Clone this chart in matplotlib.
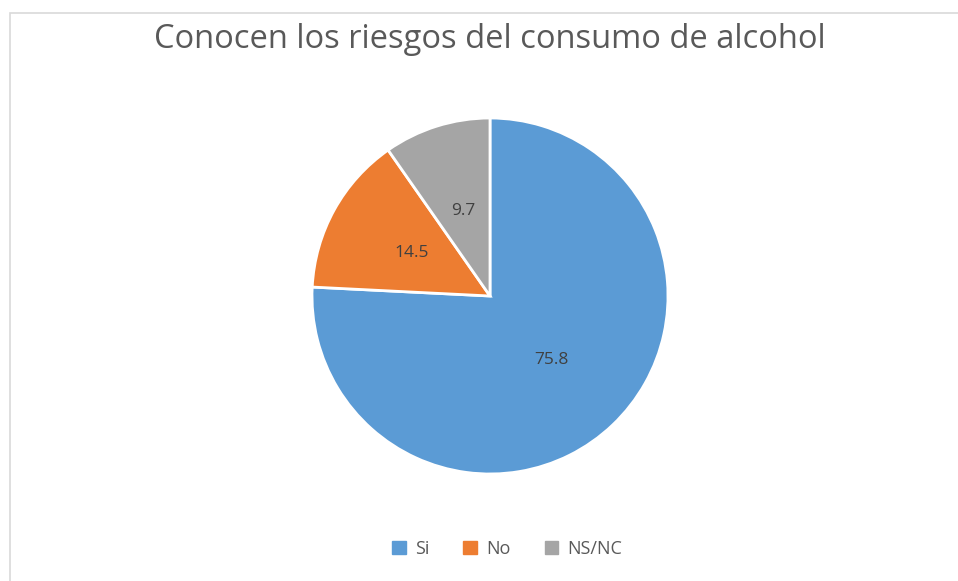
import matplotlib.pyplot as plt
from matplotlib.patches import Rectangle, Patch

# Data
categories = ["Si", "No", "NS/NC"]
values = [75.8, 14.5, 9.7]
colors = ["#5B9BD5", "#ED7D31", "#A5A5A5"]

W, H = 958, 581
fig = plt.figure(figsize=(W / 100, H / 100), dpi=100)
plt.rcParams['font.family'] = ['Open Sans', 'DejaVu Sans']

# chart border (extends past right/bottom edge)
fig.patches.append(Rectangle((10 / W, -0.05), 1.0, 1 - 13 / H + 0.05,
                             transform=fig.transFigure, fill=False,
                             edgecolor="#D9D9D9", linewidth=1.2))

# pie axes: center (490, 296), radius 178 px
cx, cy, r = 490, 296, 178
ax = fig.add_axes([(cx - r) / W, (H - cy - r) / H, 2 * r / W, 2 * r / H])
wedges, texts, autotexts = ax.pie(values, colors=colors, startangle=90, counterclock=False,
                                  autopct='%.1f', pctdistance=0.5, radius=1,
                                  wedgeprops=dict(edgecolor="white", linewidth=2),
                                  textprops=dict(color="#404040", fontsize=12.5))
ax.set_xlim(-1, 1)
ax.set_ylim(-1, 1)

fig.text(490 / W, 1 - 40 / H, "Conocen los riesgos del consumo de alcohol",
         ha="center", va="center", fontsize=23.5, color="#595959")

handles = [Patch(facecolor=c, edgecolor=c) for c in colors]
fig.legend(handles, categories, loc="center", bbox_to_anchor=(507 / W, 1 - 549 / H),
           ncol=3, frameon=False, fontsize=13, labelcolor="#595959",
           handlelength=0.75, handleheight=0.75, handletextpad=0.5, columnspacing=1.9)

fig.savefig("out.png", dpi=100)
